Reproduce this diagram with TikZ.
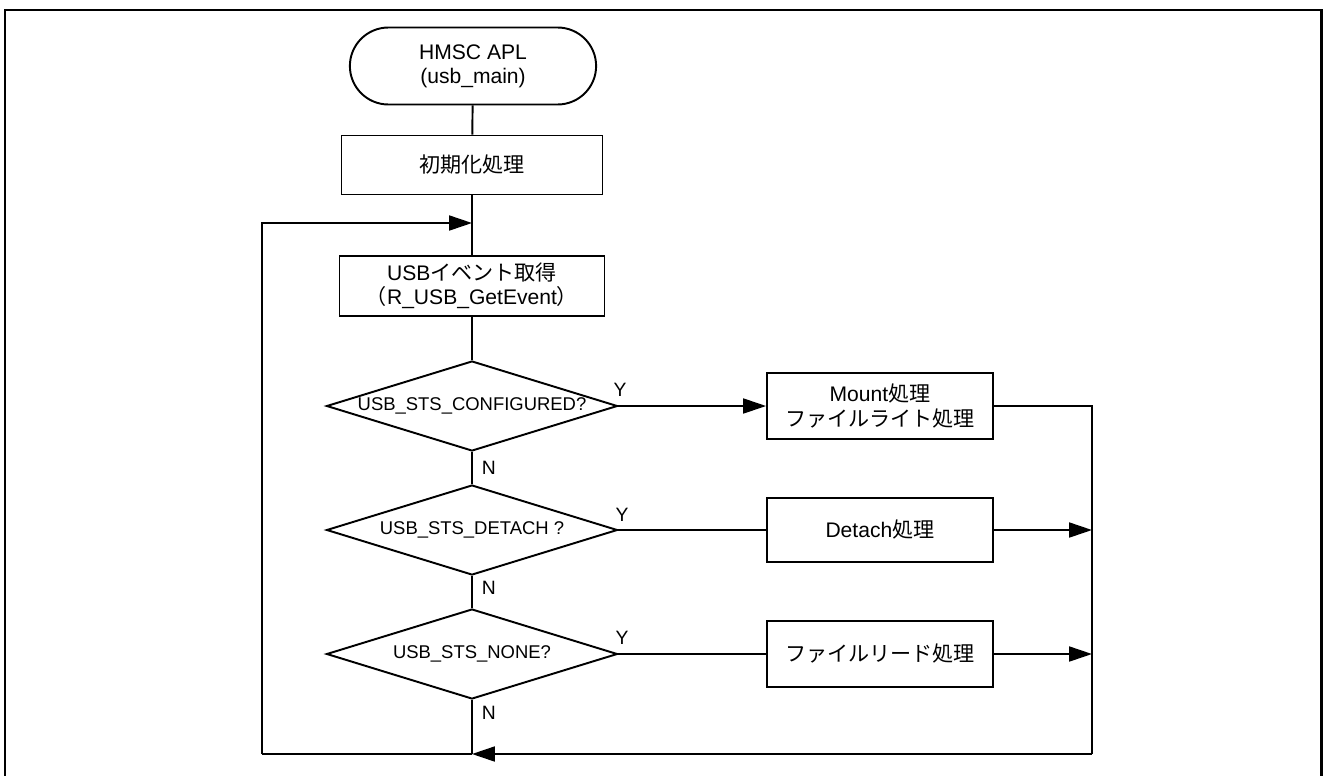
\documentclass[tikz,border=0pt]{standalone}
\usepackage{fontspec}
\setmainfont{Liberation Sans}
\newfontfamily\jp{Noto Sans CJK JP}
\usetikzlibrary{shapes.geometric,shapes.misc,arrows.meta}

\begin{document}
\begin{tikzpicture}[x=0.02cm,y=-0.02cm,
        line width=1.1pt,
        font=\fontsize{12}{13.5}\selectfont,
        procbox/.style={draw,rectangle,align=center,minimum width=4.52cm,minimum height=1.32cm},
        decide/.style={draw,diamond,aspect=3.2,inner sep=0pt,minimum width=5.82cm,minimum height=1.8cm,font=\fontsize{10.5}{13}\selectfont},
        yn/.style={inner sep=0pt,font=\fontsize{11}{13}\selectfont},
        tip/.style={-{Triangle[length=13pt,width=8.5pt]}}]
        \useasboundingbox (0,0) rectangle (1323,775);
        %frame
        \draw[line width=1.7pt] (5,800) -- (5,10) -- (1321,10) -- (1321,800);

        %main column
        \node[draw,rounded rectangle,align=center,minimum width=5.16cm,minimum height=1.54cm] (start) at (473,66) {HMSC APL\\(usb\_main)};
        \node[procbox,minimum width=5.22cm,minimum height=1.18cm] (init) at (472,165) {\jp 初期化処理};
        \node[procbox,minimum width=5.3cm,minimum height=1.2cm] (event) at (472,286) {USB{\jp イベント取得}\\{\jp （}R\_USB\_GetEvent{\jp ）}};
        \node[decide] (cfg) at (472,406) {USB\_STS\_CONFIGURED?};
        \node[decide] (det) at (472,530) {USB\_STS\_DETACH ?};
        \node[decide] (none) at (472,654) {USB\_STS\_NONE?};

        %right column
        \node[procbox,font=\fontsize{12}{14.5}\selectfont] (mount) at (880,406) {Mount{\jp 処理}\\{\jp ファイルライト処理}};
        \node[procbox,minimum height=1.28cm] (detach) at (880,530) {Detach{\jp 処理}};
        \node[procbox] (read) at (880,654) {\jp ファイルリード処理};

        %join points
        \coordinate (loopin) at (472,223);
        \coordinate (loopbot) at (472,754);
        \coordinate (lbot) at (262,754);
        \coordinate (rbot) at (1092,754);

        %connectors
        \draw (start) -- (init);
        \draw (init) -- (event);
        \draw (event) -- (cfg);
        \draw (cfg) -- (det);
        \draw (det) -- (none);
        \draw (none) -- (loopbot);
        \draw[tip] (cfg.east) -- (mount.west);
        \draw (det.east) -- (detach.west);
        \draw (none.east) -- (read.west);
        \draw (mount.east) -| (rbot);
        \draw[tip] (detach.east) -- (detach.east -| rbot);
        \draw[tip] (read.east) -- (read.east -| rbot);
        \draw[tip] (rbot) -- (loopbot);
        \draw (loopbot) -- (lbot);
        \draw[tip] (lbot) |- (loopin);

        %labels
        \node[yn] at (620,390) {Y};
        \node[yn] at (622,515) {Y};
        \node[yn] at (622,638) {Y};
        \node[yn,anchor=west] at (481,468) {N};
        \node[yn,anchor=west] at (481,588) {N};
        \node[yn,anchor=west] at (481,713) {N};
    \end{tikzpicture}
\end{document}
